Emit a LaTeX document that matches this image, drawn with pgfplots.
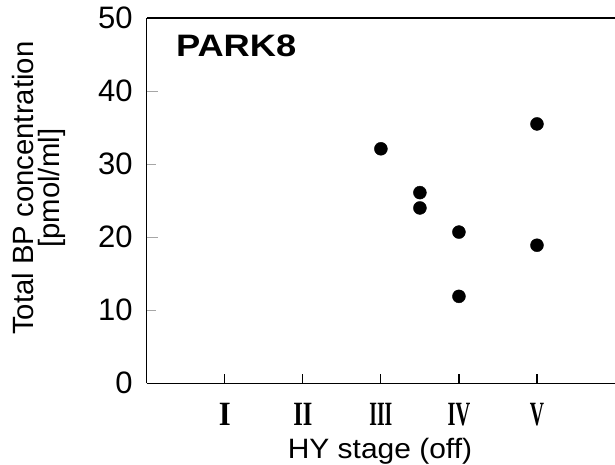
\documentclass[border=0pt]{standalone}
\usepackage{fontspec}
\setmainfont{Liberation Sans}
\newfontfamily\romfont{Liberation Serif}
\usepackage{graphicx}
\usepackage{pgfplots}
\pgfplotsset{compat=1.18}

% roman numeral tick labels, narrow serif: \rn{xscale}{text}
\newcommand{\rn}[2]{\scalebox{#1}[1]{\romfont\bfseries\fontsize{34}{40}\selectfont #2}}

\begin{document}
\begin{tikzpicture}
\begin{axis}[
  width=468.2pt, height=365.3pt, scale only axis,
  xmin=0, xmax=6, ymin=0, ymax=50,
  axis x line*=bottom, axis y line*=left,
  axis line style={line width=1.3pt, -},
  tick style={line width=1.2pt, black},
  tick align=inside,
  xtick={1,2,3,4,5},
  xticklabels={\rn{0.9}{I}, \rn{0.72}{II}, \rn{0.58}{III}, \rn{0.6}{IV}, \rn{0.58}{V}},
  xticklabel style={anchor=base, inner sep=0pt, yshift=-41.7pt},
  major tick length=9pt,
  ytick={0,10,...,50},
  ytick style={line width=0.6pt, black!35},
  yticklabel style={anchor=east, inner sep=0pt, xshift=-14pt,
    font=\fontsize{31}{36}\selectfont},
  extra y ticks={20,40},
  extra y tick labels={},
  extra y tick style={major tick length=11pt, tick style={line width=1pt, black}},
  /pgf/number format/assume math mode=true,
  every axis y label/.style={at={(rel axis cs:0,0.534)}, anchor=center,
    xshift=-107.8pt, rotate=90, align=center,
    font=\fontsize{29.3}{26.5}\selectfont},
  ylabel={Total BP concentration\\{[pmol/ml]}},
  every axis x label/.style={at={(rel axis cs:0.498,0)}, anchor=base,
    yshift=-75.5pt},
  xlabel={\scalebox{1.07}[1]{\fontsize{28}{32}\selectfont HY stage (off)}},
  clip=false,
]
\addplot[only marks, mark=*, mark size=6.5pt, black] coordinates {
  (3,32.1) (3.5,26.1) (3.5,24.0) (4,20.7) (4,11.9) (5,35.5) (5,18.9)
};
\draw[line width=1.3pt] (rel axis cs:0,1) -- (rel axis cs:1,1);
\node[anchor=base west, inner sep=0pt] at (rel axis cs:0.062,0.894)
  {\scalebox{1.17}[1]{\bfseries\fontsize{31}{36}\selectfont PARK8}};
\end{axis}
\pgfresetboundingbox
\path (-146.8pt,-80.7pt) rectangle (468.2pt,383.3pt);
\end{tikzpicture}
\end{document}
